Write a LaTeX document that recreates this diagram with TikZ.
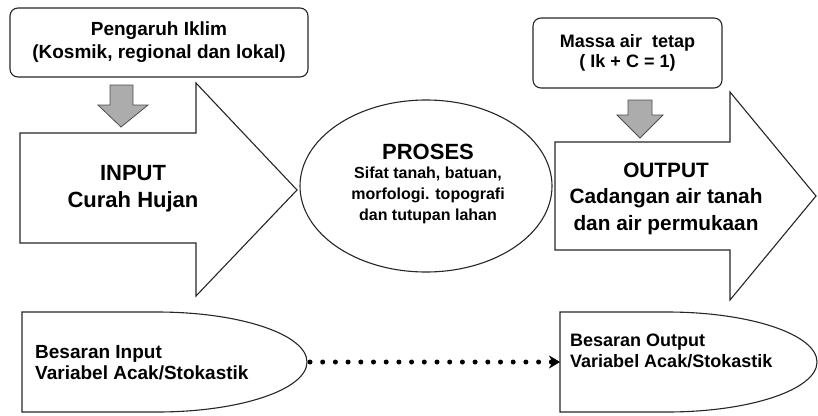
\documentclass[tikz,border=0pt]{standalone}
\usepackage{fontspec}
\setmainfont{Liberation Sans}
\usetikzlibrary{arrows.meta,shapes.geometric}

\begin{document}
\begin{tikzpicture}[x=1pt, y=-1pt,
  outline/.style={draw=black!85, line width=1.1pt},
  infobox/.style={outline, rounded corners=8pt, align=center, inner sep=2pt},
  feedarrow/.style={draw=black!70, line width=0.8pt, fill=gray!65},
  bigtext/.style={align=center, font=\bfseries\fontsize{22}{27}\selectfont},
  smalltext/.style={align=left, anchor=west, inner sep=0pt}
]
\useasboundingbox (0,0) rectangle (818,415);

% Climate box and its arrow
\node[infobox, minimum width=298pt, minimum height=69pt,
  font=\bfseries\fontsize{19}{23}\selectfont] (iklim) at (159,42.5)
  {Pengaruh Iklim\\(Kosmik, regional dan lokal)};
\draw[feedarrow] (110,85) -- (133,85) -- (133,105) -- (148,105) -- (121,127)
  -- (98,105) -- (110,105) -- cycle;

% Input arrow
\draw[outline, fill=white] (20,133) -- (196,133) -- (196,83) -- (297,190)
  -- (196,296) -- (196,243) -- (20,243) -- cycle;
\node[bigtext] (input) at (133,189) {INPUT\\Curah Hujan};

% Process ellipse
\node[outline, ellipse, minimum width=252pt, minimum height=172pt,
  inner sep=0pt] (proses) at (426,186) {};
\node[align=center, font=\bfseries\fontsize{16}{21}\selectfont] (prosestext) at (428,184)
  {{\fontsize{22}{22}\selectfont PROSES}\\[-2pt] Sifat tanah, batuan,\\
   morfologi. topografi\\ dan tutupan lahan};

% Mass box and its arrow
\node[infobox, minimum width=189pt, minimum height=70pt,
  font=\bfseries\fontsize{18}{20}\selectfont] (massa) at (627.5,53)
  {Massa air~~tetap\\( Ik + C = 1)};
\draw[feedarrow] (628,100) -- (652,100) -- (652,115) -- (663,115) -- (640,138)
  -- (617,115) -- (628,115) -- cycle;

% Output arrow
\draw[outline, fill=white] (555,142) -- (730,142) -- (730,92) -- (816,196)
  -- (730,300) -- (730,250) -- (555,250) -- cycle;
\node[bigtext, font=\bfseries\fontsize{20.8}{26.5}\selectfont] (output) at (666,198.5)
  {OUTPUT\\Cadangan air tanah\\dan air permukaan};

% Random variable shapes
\draw[outline] (22,312) -- (157,312) arc[start angle=-90, end angle=90,
  x radius=150, y radius=50] -- (22,412) -- cycle;
\coordinate (intip) at (307,362);
\node[smalltext, font=\bfseries\fontsize{19}{21}\selectfont] (besarinput) at (35,362.5)
  {Besaran Input\\Variabel Acak/Stokastik};

\draw[outline] (560,312) -- (667,312) arc[start angle=-90, end angle=90,
  x radius=150, y radius=50] -- (560,412) -- cycle;
\coordinate (outleft) at (560,362);
\node[smalltext, font=\bfseries\fontsize{18}{21}\selectfont] (besaroutput) at (570,351)
  {Besaran Output\\Variabel Acak/Stokastik};

% Dotted link
\draw[line width=5pt, line cap=round, dash pattern=on 0pt off 12.7pt,
  shorten <=3pt, -{Stealth[length=11pt, width=13pt, line width=0.5pt]}]
  (intip) -- (outleft);

\end{tikzpicture}
\end{document}
